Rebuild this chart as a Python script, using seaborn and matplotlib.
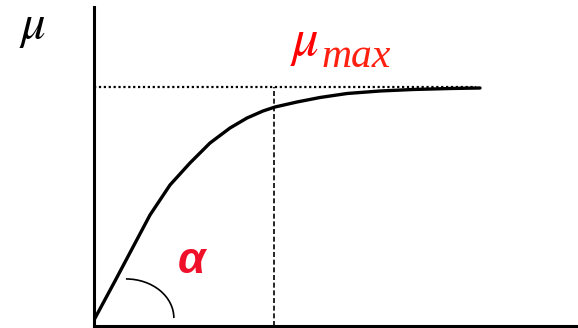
import pandas as pd
import matplotlib
matplotlib.use('Agg')
import matplotlib.pyplot as plt
import seaborn as sns
from matplotlib.patches import Arc

sns.set_style('white')
plt.rcParams['mathtext.fontset'] = 'stix'

# curve (arbitrary units, axes run 0..10 both ways)
curve_x = [0, 0.434, 0.806, 1.157, 1.570, 1.983, 2.397, 2.810, 3.161, 3.492,
           3.740, 4.194, 4.669, 5.227, 5.909, 6.591, 7.355, 7.975]
curve_y = [0.188, 1.411, 2.476, 3.480, 4.420, 5.110, 5.737, 6.207, 6.520, 6.740,
           6.865, 7.022, 7.163, 7.288, 7.367, 7.414, 7.445, 7.461]
mu_max = 7.49
x_marker = 3.71  # where the dashed drop line sits

df = pd.DataFrame({'x': curve_x, 'y': curve_y})

fig = plt.figure(figsize=(5.78, 3.28), dpi=100)
ax = fig.add_axes([94 / 578, 2 / 328, 484 / 578, 319 / 328])

sns.lineplot(data=df, x='x', y='y', color='black', linewidth=2.4, ax=ax)

# plateau and drop line
ax.hlines(mu_max, 0, 7.9, colors='black', linestyles=(0, (1, 1.2)), linewidth=1.6)
ax.vlines(x_marker, 0, mu_max, colors='black', linestyles=(0, (3, 1.6)), linewidth=1.2)

# angle arc at the origin
ax.add_patch(Arc((0.66, 0.25), 1.98, 2.45, theta1=0, theta2=90,
                 color='black', linewidth=1.2))

ax.set_xlim(0, 10)
ax.set_ylim(0, 10)
ax.set_xticks([])
ax.set_yticks([])
ax.set_xlabel('')
ax.set_ylabel('')
sns.despine(ax=ax)
for s in ['left', 'bottom']:
    ax.spines[s].set_linewidth(2.2)
    ax.spines[s].set_color('black')

# labels
ax.text(-1.55, 9.03, r'$\mu$', fontsize=35, color='black',
        va='baseline', ha='left', clip_on=False)
ax.text(4.05, 8.50, r'$\mu$', fontsize=38, color='#ff0000',
        va='baseline', ha='left')
ax.text(4.71, 8.12, 'max', fontsize=30, family='Liberation Serif', style='italic',
        color='#ff2010', va='baseline', ha='left')
ax.text(1.74, 1.66, 'α', fontsize=32, family='Liberation Sans', weight='bold',
        style='italic', color='#f0102a', va='baseline', ha='left')

fig.savefig('out.png', dpi=100)
